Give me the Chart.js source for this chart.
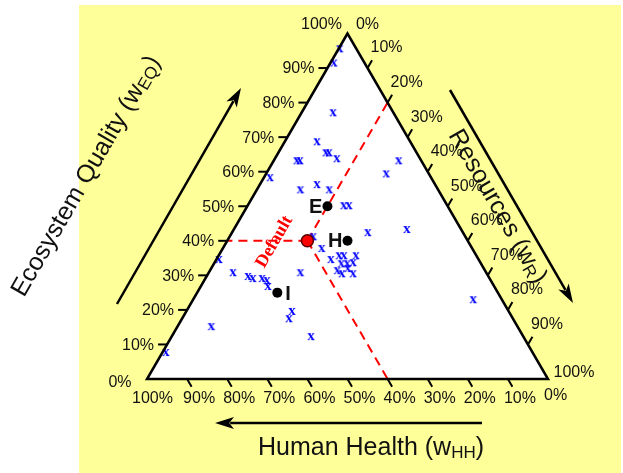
<!DOCTYPE html>
<html>
<head>
<meta charset="utf-8">
<script src="https://cdn.jsdelivr.net/npm/chart.js@4.4.1/dist/chart.umd.min.js"></script>
<style>
  html, body { margin: 0; padding: 0; background: #fff; }
  canvas { display: block; }
</style>
</head>
<body>
<canvas id="chart" width="623" height="473"></canvas>
<script>
// panel weightings, in % : ecosystem quality (EQ) and human health (HH); resources = 100 - EQ - HH
const markerEQ = [95.7, 91.6, 77.2, 68.8, 65.6, 65.6, 63.9, 63.3, 63.3, 58.4, 56.4, 54.9, 54.9, 50.3, 50.3,
  63.3, 59.5, 41.3, 37.9, 42.5, 43.4, 34.7, 30.9, 29.8, 29.2, 29.2, 28.6, 26.9, 30.9, 34.7, 35.8, 35.8,
  35.8, 33.5, 33.5, 33.8, 31.5, 32.1, 30.6, 30.6, 23.1, 19.7, 17.6, 12.4, 15.3, 7.8];
const markerHH = [4.1, 7.6, 15.0, 23.2, 22.6, 21.8, 20.7, 31.0, 30.2, 40.1, 29.4, 34.3, 27.1, 25.8, 24.5,
  5.6, 10.6, 37.9, 37.5, 23.7, 13.5, 64.7, 63.1, 59.9, 59.0, 56.7, 55.8, 56.4, 46.3, 36.8, 34.2, 33.0,
  30.0, 34.8, 33.3, 31.7, 36.8, 33.9, 36.1, 33.3, 7.1, 54.0, 55.8, 52.9, 76.3, 91.4];

// cultural perspectives
const perspectiveNames = ['E', 'H', 'I'];
const perspectiveEQ = [50, 40, 25];
const perspectiveHH = [30, 30, 55];

// default weighting
const defaultEQ = 40;
const defaultHH = 40;

const tickPercents = [0, 10, 20, 30, 40, 50, 60, 70, 80, 90, 100];
const tickLabels = ['0%', '10%', '20%', '30%', '40%', '50%', '60%', '70%', '80%', '90%', '100%'];

// ternary -> cartesian (x along the base, y = EQ share)
function toXY(eq, hh) {
  const e = eq / 100, h = hh / 100;
  return { x: 1 - h - e / 2, y: e };
}

const markerPoints = markerEQ.map((eq, i) => toXY(eq, markerHH[i]));
const perspectivePoints = perspectiveEQ.map((eq, i) => toXY(eq, perspectiveHH[i]));
const defaultPoint = toXY(defaultEQ, defaultHH);
const defaultR = 100 - defaultEQ - defaultHH;

// the blue "x" used for the panel members
const xMark = document.createElement('canvas');
xMark.width = 12; xMark.height = 12;
(function () {
  const c = xMark.getContext('2d');
  c.fillStyle = '#0000ff';
  c.font = 'bold 15px "Liberation Serif", "Times New Roman", serif';
  c.textAlign = 'center';
  c.textBaseline = 'alphabetic';
  c.fillText('x', 6, 9.5);
})();

function arrow(ctx, x1, y1, x2, y2) {
  const a = Math.atan2(y2 - y1, x2 - x1);
  const len = 19, hw = 6;
  ctx.beginPath();
  ctx.moveTo(x1, y1);
  ctx.lineTo(x2 - Math.cos(a) * len * 0.8, y2 - Math.sin(a) * len * 0.8);
  ctx.stroke();
  ctx.beginPath();
  ctx.moveTo(x2, y2);
  ctx.lineTo(x2 - Math.cos(a) * len - Math.sin(a) * hw, y2 - Math.sin(a) * len + Math.cos(a) * hw);
  ctx.lineTo(x2 - Math.cos(a) * len * 0.75, y2 - Math.sin(a) * len * 0.75);
  ctx.lineTo(x2 - Math.cos(a) * len + Math.sin(a) * hw, y2 - Math.sin(a) * len - Math.cos(a) * hw);
  ctx.closePath();
  ctx.fill();
}

// title with a subscript, e.g. Human Health (w_HH)
function title(ctx, x, y, angle, main, sub) {
  ctx.save();
  ctx.translate(x, y);
  ctx.rotate(angle);
  ctx.textAlign = 'left';
  ctx.textBaseline = 'alphabetic';
  ctx.font = '25px "Liberation Sans", Arial, sans-serif';
  ctx.fillText(main, 0, 0);
  let w = ctx.measureText(main).width;
  ctx.font = '17px "Liberation Sans", Arial, sans-serif';
  ctx.fillText(sub, w, 3);
  w += ctx.measureText(sub).width;
  ctx.font = '25px "Liberation Sans", Arial, sans-serif';
  ctx.fillText(')', w, 0);
  ctx.restore();
}

const ternaryFrame = {
  id: 'ternaryFrame',
  beforeDraw(chart) {
    const ctx = chart.ctx;
    ctx.save();
    ctx.fillStyle = '#ffff99';
    ctx.fillRect(79, 5, 542, 468);
    ctx.restore();
  },
  beforeDatasetsDraw(chart) {
    const ctx = chart.ctx;
    const px = (eq, hh) => {
      const p = toXY(eq, hh);
      return [chart.scales.x.getPixelForValue(p.x), chart.scales.y.getPixelForValue(p.y)];
    };
    ctx.save();
    ctx.fillStyle = '#fff';
    ctx.beginPath();
    ctx.moveTo(...px(100, 0));
    ctx.lineTo(...px(0, 100));
    ctx.lineTo(...px(0, 0));
    ctx.closePath();
    ctx.fill();
    ctx.restore();
  },
  afterDatasetsDraw(chart) {
    const ctx = chart.ctx;
    const px = (eq, hh) => {
      const p = toXY(eq, hh);
      return [chart.scales.x.getPixelForValue(p.x), chart.scales.y.getPixelForValue(p.y)];
    };
    ctx.save();
    ctx.strokeStyle = '#000';
    ctx.fillStyle = '#000';
    ctx.lineWidth = 2.5;
    ctx.lineJoin = 'miter';
    ctx.beginPath();
    ctx.moveTo(...px(100, 0));
    ctx.lineTo(...px(0, 100));
    ctx.lineTo(...px(0, 0));
    ctx.closePath();
    ctx.stroke();

    ctx.lineWidth = 2;
    ctx.font = '16px "Liberation Sans", Arial, sans-serif';
    ctx.fillStyle = '#111';
    tickPercents.forEach((v, i) => {
      const lab = tickLabels[i];
      const inner = v > 0 && v < 100;
      // left axis: ecosystem quality
      let [ex, ey] = px(v, 100 - v);
      if (inner) {
        ctx.beginPath(); ctx.moveTo(ex - 9, ey); ctx.lineTo(ex, ey); ctx.stroke();
        ctx.textAlign = 'right'; ctx.textBaseline = 'middle';
        ctx.fillText(lab, ex - 13, ey + 1);
      } else {
        ctx.textAlign = 'center'; ctx.textBaseline = 'middle';
        if (v === 100) ctx.fillText(lab, ex - 26, ey - 9);
        else ctx.fillText(lab, ex - 27, ey + 4);
      }
      // bottom axis: human health
      [ex, ey] = px(0, v);
      if (inner) {
        ctx.beginPath(); ctx.moveTo(ex, ey); ctx.lineTo(ex + 4.5, ey + 7.8); ctx.stroke();
      }
      ctx.textAlign = 'left'; ctx.textBaseline = 'middle';
      ctx.fillText(lab, ex - (v === 100 ? 15 : 4), v === 0 ? 396 : 399);
      // right axis: resources
      [ex, ey] = px(100 - v, 0);
      ctx.textAlign = 'center'; ctx.textBaseline = 'middle';
      if (inner) {
        ctx.beginPath(); ctx.moveTo(ex, ey); ctx.lineTo(ex + 4.5, ey - 7.8); ctx.stroke();
        ctx.fillText(lab, ex + 19, ey - 20);
      } else if (v === 0) {
        ctx.fillText(lab, ex + 20, ey - 9);
      } else {
        ctx.fillText(lab, ex + 26, ey - 6);
      }
    });

    // direction arrows
    ctx.fillStyle = '#000';
    ctx.lineWidth = 2.5;
    arrow(ctx, 117, 304, 241, 88);
    arrow(ctx, 450, 90, 573, 303);
    arrow(ctx, 482, 423, 215, 423);

    // axis titles
    ctx.fillStyle = '#111';
    title(ctx, 258, 455, 0, 'Human Health (w', 'HH');
    title(ctx, 24, 298, -Math.PI / 3, 'Ecosystem Quality (w', 'EQ');
    title(ctx, 448, 135, Math.PI / 3, 'Resources (w', 'R');

    // perspective labels
    ctx.font = 'bold 20px "Liberation Sans", Arial, sans-serif';
    ctx.textBaseline = 'middle';
    perspectivePoints.forEach((p, i) => {
      const x = chart.scales.x.getPixelForValue(p.x);
      const y = chart.scales.y.getPixelForValue(p.y);
      if (perspectiveNames[i] === 'I') {
        ctx.textAlign = 'left';
        ctx.fillText(perspectiveNames[i], x + 8, y + 2);
      } else {
        ctx.textAlign = 'right';
        ctx.fillText(perspectiveNames[i], x - 5, y + 1);
      }
    });

    // "Default" label
    const dx = chart.scales.x.getPixelForValue(defaultPoint.x);
    const dy = chart.scales.y.getPixelForValue(defaultPoint.y);
    ctx.save();
    ctx.translate(dx - 33, dy + 1);
    ctx.rotate(-Math.PI / 3);
    ctx.fillStyle = '#ff0000';
    ctx.font = 'bold 18px "Liberation Serif", "Times New Roman", serif';
    ctx.textAlign = 'center';
    ctx.textBaseline = 'middle';
    ctx.fillText('Default', 0, 0);
    ctx.restore();
    ctx.restore();
  }
};

const dashStyle = {
  showLine: true, borderColor: '#ff0000', borderWidth: 2, borderDash: [9, 6],
  pointRadius: 0, fill: false
};

new Chart(document.getElementById('chart').getContext('2d'), {
  type: 'scatter',
  data: {
    datasets: [
      {
        label: 'Default',
        data: [defaultPoint],
        pointRadius: 6,
        backgroundColor: '#ff0000',
        borderColor: '#550000',
        borderWidth: 1.5
      },
      {
        label: 'Perspectives',
        data: perspectivePoints,
        pointRadius: 5,
        backgroundColor: '#000',
        borderWidth: 0
      },
      {
        label: 'Panel',
        data: markerPoints,
        pointStyle: xMark
      },
      Object.assign({ label: 'EQ boundary', data: [defaultPoint, toXY(defaultEQ, 100 - defaultEQ)] }, dashStyle),
      Object.assign({ label: 'HH boundary', data: [defaultPoint, toXY(0, defaultHH)] }, dashStyle),
      Object.assign({ label: 'R boundary', data: [defaultPoint, toXY(100 - defaultR, 0)] }, dashStyle)
    ]
  },
  options: {
    responsive: false,
    animation: false,
    layout: { padding: { left: 147, right: 75, top: 33.5, bottom: 94 } },
    scales: {
      x: { type: 'linear', min: 0, max: 1, display: false },
      y: { type: 'linear', min: 0, max: 1, display: false }
    },
    plugins: {
      legend: { display: false },
      tooltip: { enabled: false }
    }
  },
  plugins: [ternaryFrame]
});
</script>
</body>
</html>
